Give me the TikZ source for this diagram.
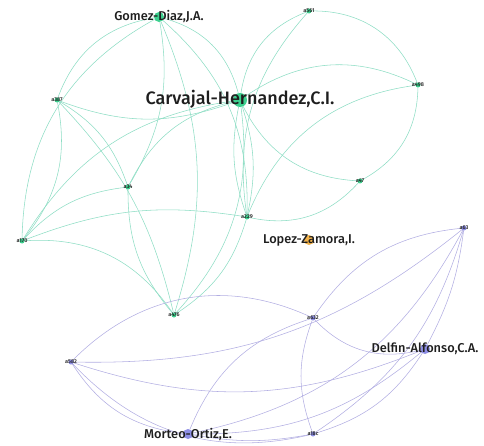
\documentclass[tikz,border=0pt]{standalone}
\usepackage{fontspec}
\setmainfont{Fira Sans Medium}
\usetikzlibrary{backgrounds}
\definecolor{gfill}{HTML}{3DD08F}
\definecolor{gline}{HTML}{8EDDC4}
\definecolor{pfill}{HTML}{8F8FE6}
\definecolor{pline}{HTML}{B2AEE2}
\definecolor{ofill}{HTML}{F2B24A}
\definecolor{ink}{HTML}{1E1E1E}
\begin{document}
\begin{tikzpicture}[x=1pt,y=-1pt,
  every node/.style={inner sep=0pt,outer sep=0pt},
  gnode/.style={circle,fill=gfill,minimum size=#1},
  pnode/.style={circle,fill=pfill,minimum size=#1},
  onode/.style={circle,fill=ofill,minimum size=#1},
  big/.style={font=\fontsize{18}{18}\selectfont,text=ink},
  mid/.style={font=\fontsize{12.8}{12.8}\selectfont,text=ink},
  tiny/.style={font=\fontsize{5.5}{5.5}\selectfont,text=ink},
  gedge/.style={draw=gline,line width=0.55pt},
  pedge/.style={draw=pline,line width=0.55pt},
]
\useasboundingbox (0,0) rectangle (484,446);

% green cluster
\node[gnode=14pt] (cv) at (240,100) {};
\node[gnode=10pt] (gd) at (159,17) {};
\node[gnode=5pt] (p387) at (57,100) {};
\node[gnode=5pt] (p561) at (309,11) {};
\node[gnode=5pt] (p498) at (418,85) {};
\node[gnode=5pt] (p34) at (128,187) {};
\node[gnode=5pt] (p170) at (22,241) {};
\node[gnode=5pt] (p229) at (247,217) {};
\node[gnode=5pt] (p47) at (360,181) {};
\node[gnode=5pt] (p476) at (174,315) {};
% isolated author
\node[onode=10pt] (lz) at (309,240) {};
% purple cluster
\node[pnode=5pt] (p63) at (464,228) {};
\node[pnode=5pt] (p632) at (313,318) {};
\node[pnode=5pt] (p582) at (71,362) {};
\node[pnode=10pt] (da) at (425,349) {};
\node[pnode=10pt] (mo) at (188,434) {};
\node[pnode=5pt] (p18c) at (313,434) {};

\begin{scope}[on background layer]
\path[gedge]
  (gd) edge[bend left=30] (cv)
  (gd) edge[bend right=30] (p387)
  (gd) edge[bend left=20] (p34)
  (gd) edge[bend right=30] (p170)
  (gd) edge[bend left=20] (p476)
  (gd) edge[bend left=25] (p229)
  (cv) edge[bend left=20] (p387)
  (cv) edge[bend left=30] (p561)
  (cv) edge[bend left=30] (p498)
  (cv) edge[bend right=30] (p47)
  (cv) edge[bend left=15] (p229)
  (cv) edge[bend right=15] (p229)
  (cv) edge[bend right=25] (p34)
  (cv) edge[bend right=25] (p170)
  (cv) edge[bend left=25] (p476)
  (p561) edge[bend left=35] (p498)
  (p561) edge[bend right=25] (p229)
  (p498) edge[bend right=30] (p229)
  (p498) edge[bend left=30] (p47)
  (p387) edge[bend left=20] (p34)
  (p387) edge[bend left=25] (p170)
  (p387) edge[bend left=15] (p476)
  (p170) edge[bend left=30] (p476)
  (p170) edge[bend left=20] (p34)
  (p170) edge[bend left=15] (p229)
  (p229) edge[bend right=30] (p47)
  (p229) edge[bend left=20] (p476)
  (p34) edge[bend right=20] (p476);
\path[pedge]
  (p582) edge[bend left=35] (p632)
  (p582) edge[bend right=20] (da)
  (p582) edge[bend right=30] (p18c)
  (p582) edge[bend right=25] (mo)
  (p582) edge[bend right=20] (p63)
  (p632) edge[bend right=30] (da)
  (p632) edge[bend right=20] (p18c)
  (p632) edge[bend right=25] (mo)
  (p632) edge[bend left=25] (p63)
  (p63) edge[bend left=10] (da)
  (p63) edge[bend left=20] (p18c)
  (p63) edge[bend left=25] (mo)
  (da) edge[bend left=20] (p18c)
  (da) edge[bend left=20] (mo)
  (mo) edge[bend right=10] (p18c);
\end{scope}

% labels, centred on their nodes
\node[big] (cvl) at (cv.center) [yshift=1pt] {Carvajal-Hernandez,C.I.};
\node[mid] (gdl) at (gd) {Gomez-Diaz,J.A.};
\node[mid] (lzl) at (lz) {Lopez-Zamora,I.};
\node[mid] (dal) at (da) {Delfin-Alfonso,C.A.};
\node[mid] (mol) at (mo) {Morteo-Ortiz,E.};
\node[tiny] at (p387) {a387};
\node[tiny] at (p561) {a561};
\node[tiny] at (p498) {a498};
\node[tiny] at (p34) {a34};
\node[tiny] at (p170) {a170};
\node[tiny] at (p229) {a229};
\node[tiny] at (p47) {a47};
\node[tiny] at (p476) {a476};
\node[tiny] at (p63) {a63};
\node[tiny] at (p632) {a632};
\node[tiny] at (p582) {a582};
\node[tiny] at (p18c) {a18c};
\end{tikzpicture}
\end{document}
